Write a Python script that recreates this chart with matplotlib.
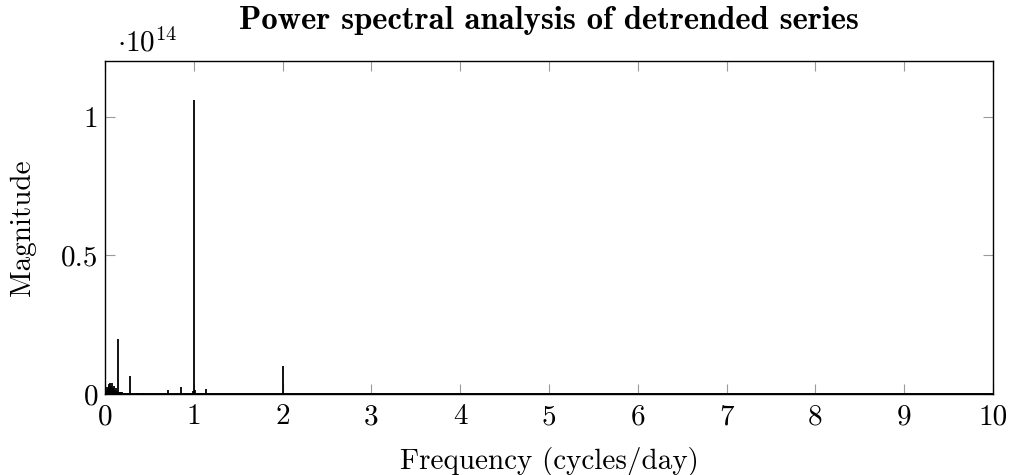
import matplotlib
matplotlib.use("Agg")
import matplotlib.pyplot as plt

# ---- data (magnitude in units of 1e14) ----
freqs = [0.01, 0.02, 0.03, 0.04, 0.05, 0.06, 0.07, 0.08, 0.09, 0.10, 0.11, 0.12, 0.13,
         0.143, 0.16, 0.17, 0.18, 0.19, 0.20, 0.286, 0.36, 0.43,
         0.714, 0.857, 0.99, 1.0, 1.01, 1.08, 1.10, 1.143, 1.99, 2.0, 2.01]
mags = [0.012, 0.025, 0.018, 0.035, 0.028, 0.040, 0.030, 0.038, 0.022, 0.030, 0.015, 0.020, 0.010,
        0.200, 0.006, 0.008, 0.007, 0.006, 0.004, 0.065, 0.003, 0.004,
        0.013, 0.025, 0.012, 1.061, 0.015, 0.003, 0.003, 0.019, 0.004, 0.100, 0.004]
x_ticks = [0, 1, 2, 3, 4, 5, 6, 7, 8, 9, 10]
y_ticks = [0, 0.5, 1]
y_tick_labels = ["0", "0.5", "1"]
scale_exp = 14

plt.rcParams['font.family'] = ['cmr10', 'DejaVu Serif']
plt.rcParams['mathtext.fontset'] = 'cm'
plt.rcParams['axes.formatter.use_mathtext'] = True

FS = 21

fig = plt.figure(figsize=(10.12, 4.75), dpi=100)
ax = fig.add_axes([105/1012, 1-394/475, 888/1012, 333/475])

ax.vlines(freqs, 0, mags, colors='black', lw=1.3)
ax.axhline(0, color='black', lw=1.4, zorder=3)

ax.set_xlim(0, 10)
ax.set_ylim(0, 1.2)
ax.set_xticks(x_ticks)
ax.set_xticklabels([str(t) for t in x_ticks])
ax.set_yticks(y_ticks)
ax.set_yticklabels(y_tick_labels)

for s in ax.spines.values():
    s.set_linewidth(1.0)
    s.set_color('black')

ax.tick_params(direction='in', length=7.5, width=0.8, color='#9a9a9a',
               top=True, right=True, labelsize=FS)
ax.tick_params(axis='x', pad=7)
ax.tick_params(axis='y', pad=5)

ax.text(0.0135, 1.03, r'$\cdot 10^{%d}$' % scale_exp, transform=ax.transAxes,
        fontsize=FS, va='baseline', ha='left')

ax.set_title('Power spectral analysis of detrended series', fontsize=23.5,
             family='cmb10', pad=23)
ax.set_xlabel('Frequency (cycles/day)', fontsize=FS, labelpad=12)
ax.set_ylabel('Magnitude', fontsize=FS, labelpad=18)

fig.savefig('out.png', dpi=100)
